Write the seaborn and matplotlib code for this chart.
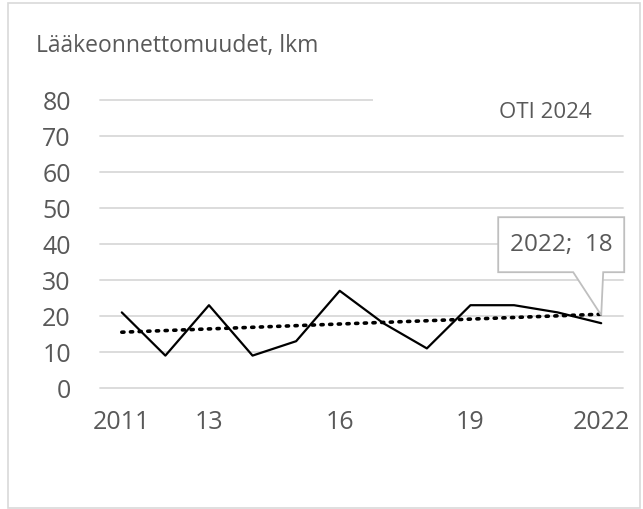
import numpy as np
import pandas as pd
import matplotlib
matplotlib.use('Agg')
import matplotlib.pyplot as plt
from matplotlib.patches import Polygon, Rectangle
import seaborn as sns

# Lääkeonnettomuudet vuosittain
years = [2011, 2012, 2013, 2014, 2015, 2016, 2017, 2018, 2019, 2020, 2021, 2022]
counts = [21, 9, 23, 9, 13, 27, 18, 11, 23, 23, 21, 18]
tick_years = [2011, 2013, 2016, 2019, 2022]
tick_labels = ['2011', '13', '16', '19', '2022']
y_ticks = [0, 10, 20, 30, 40, 50, 60, 70, 80]

df = pd.DataFrame({'vuosi': years, 'lkm': counts})

# lineaarinen trendi
k, b = np.polyfit(df['vuosi'], df['lkm'], 1)
df['trendi'] = k * df['vuosi'] + b

sns.set_theme(style='white')
plt.rcParams['font.family'] = ['Open Sans', 'DejaVu Sans']
grey = '#595959'

fig = plt.figure(figsize=(6.43, 5.09), dpi=100)
W, H = 643, 509
ax = fig.add_axes([100 / W, 1 - 388 / H, 523 / W, 288 / H])

sns.lineplot(data=df, x='vuosi', y='trendi', ax=ax, color='black', linestyle=(0, (0.6, 1.8)),
             linewidth=2.6, dash_capstyle='round', zorder=3)
sns.lineplot(data=df, x='vuosi', y='lkm', ax=ax, color='black', linewidth=1.6, zorder=4)

ax.set_xlim(years[0] - 0.5, years[-1] + 0.5)
ax.set_ylim(0, 80)
ax.set_yticks(y_ticks)
ax.set_xticks(tick_years)
ax.set_xticklabels(tick_labels)
ax.set_xlabel('')
ax.set_ylabel('')
ax.tick_params(axis='y', length=0, pad=21, labelsize=18, labelcolor=grey)
ax.tick_params(axis='x', length=0, pad=16, labelsize=18, labelcolor=grey)
sns.despine(ax=ax, left=True, bottom=True)
ax.set_axisbelow(True)
ax.yaxis.grid(True, color='#d9d9d9', linewidth=1.3)
ax.xaxis.grid(False)
for gl in ax.get_ygridlines():
    gl.set_clip_on(False)

# tekstilaatikko "OTI 2024" peittää ylimmän apuviivan
ax.add_patch(Rectangle((0.522, 0.96), 0.5, 0.1, transform=ax.transAxes, facecolor='white',
                       edgecolor='none', zorder=1, clip_on=False))
ax.text(0.851, 0.955, 'OTI 2024', transform=ax.transAxes, ha='center', va='center',
        fontsize=16, color=grey, zorder=5)

# otsikko
fig.text(36 / W, 1 - 46 / H, 'Lääkeonnettomuudet, lkm', ha='left', va='center', fontsize=16.5, color=grey)

# selite viimeiselle pisteelle
last_x, last_y = years[-1], counts[-1]
base = ax.transData.transform((last_x, last_y))
verts_px = [(0, 8), (-28, 51), (-103, 51), (-103, 106), (23, 106), (23, 51), (2, 51)]
verts = [base + np.array(v) for v in verts_px]
callout = Polygon(verts, closed=True, transform=None, facecolor='white', edgecolor='#bfbfbf',
                  linewidth=1.3, zorder=6, clip_on=False)
fig.patches.append(callout)
tx, ty = base + np.array([-40, 78])
fig.text(tx / W, ty / H, f'{last_x};  {last_y}', ha='center', va='center', fontsize=17.5,
         color=grey, zorder=7)

# kehys
fig.patches.append(Rectangle((8 / W, 1 / H), 632 / W, 505 / H, transform=fig.transFigure,
                             facecolor='none', edgecolor='#d9d9d9', linewidth=1.2))

fig.savefig('out.png', dpi=100)
